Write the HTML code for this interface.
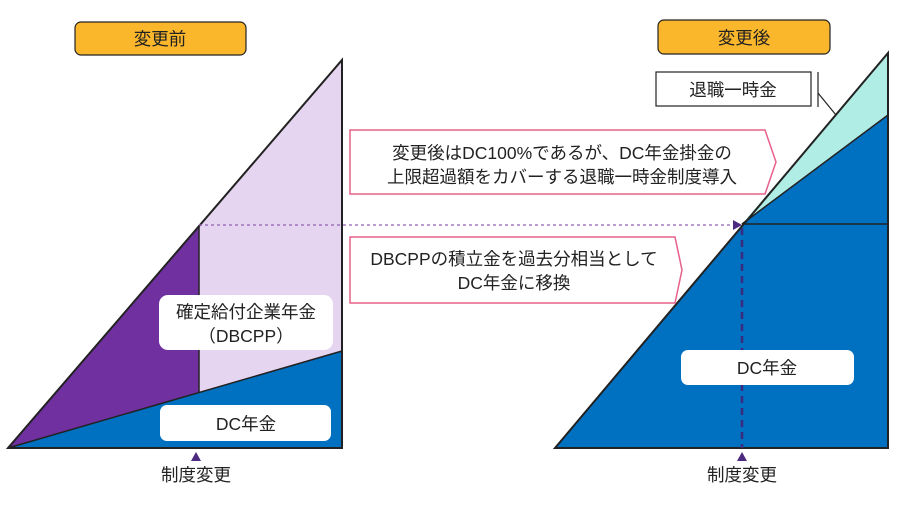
<!DOCTYPE html>
<html><head><meta charset="utf-8"><style>
body{margin:0;background:#fff;width:900px;height:500px;overflow:hidden}
svg text{font-family:"Liberation Sans","Noto Sans CJK JP",sans-serif;fill:#222}
</style></head><body>
<svg width="900" height="500" viewBox="0 0 900 500">
<polygon points="8,448 342,60 342,448" fill="#E6D5F0"/>
<polygon points="8,448 199,225 199,392" fill="#7030A0"/>
<polygon points="8,448 342,351 342,448" fill="#0070C0"/>
<line x1="199" y1="225" x2="199" y2="392" stroke="#222" stroke-width="1.5"/>
<line x1="8" y1="448" x2="342" y2="351" stroke="#222" stroke-width="1.5"/>
<polygon points="8,448 342,60 342,448" fill="none" stroke="#222" stroke-width="2"/>
<rect x="159" y="295" width="174" height="55" rx="9" fill="#fff"/>
<text x="246" y="318" font-size="17.5" text-anchor="middle">確定給付企業年金</text>
<text x="246" y="342" font-size="17.5" text-anchor="middle">（DBCPP）</text>
<rect x="160" y="405" width="171" height="36" rx="7" fill="#fff"/>
<text x="246" y="430" font-size="17.5" text-anchor="middle">DC年金</text>
<polygon points="191,461 201,461 196,452" fill="#4B2A80"/>
<text x="196" y="481" font-size="17.5" text-anchor="middle">制度変更</text>
<rect x="75" y="22" width="171" height="33" rx="6" fill="#FBB72C" stroke="#222" stroke-width="1.2"/>
<text x="160" y="45" font-size="17.5" text-anchor="middle">変更前</text>
<rect x="658" y="20" width="172" height="34" rx="6" fill="#FBB72C" stroke="#222" stroke-width="1.2"/>
<text x="744" y="44" font-size="17.5" text-anchor="middle">変更後</text>
<polygon points="555,448 888,53 888,448" fill="#0070C0"/>
<polygon points="742,224 888,53 888,115" fill="#B0EDE5"/>
<line x1="742" y1="224" x2="888" y2="115" stroke="#222" stroke-width="1.5"/>
<line x1="742" y1="224" x2="888" y2="224" stroke="#222" stroke-width="1.5"/>
<polygon points="555,448 888,53 888,448" fill="none" stroke="#222" stroke-width="2"/>
<line x1="742" y1="228" x2="742" y2="448" stroke="#3A2A80" stroke-width="2.5" stroke-dasharray="7,5"/>
<rect x="681" y="350" width="173" height="35" rx="7" fill="#fff"/>
<text x="767" y="374" font-size="17.5" text-anchor="middle">DC年金</text>
<polygon points="737,461 747,461 742,452" fill="#4B2A80"/>
<text x="742" y="481" font-size="17.5" text-anchor="middle">制度変更</text>
<rect x="656" y="72" width="155" height="34" fill="#fff" stroke="#222" stroke-width="1.2"/>
<text x="733" y="96" font-size="17.5" text-anchor="middle">退職一時金</text>
<polyline points="818,72 818,107" fill="none" stroke="#222" stroke-width="1.2"/>
<line x1="818" y1="93" x2="836" y2="115" stroke="#222" stroke-width="1.2"/>
<line x1="199" y1="225" x2="734" y2="225" stroke="#9060B0" stroke-width="1.3" stroke-dasharray="3,3"/>
<polygon points="733,220 742,225 733,230" fill="#4B2A80"/>
<polygon points="350,130 765,130 776,162 765,194 350,194" fill="#fff" stroke="#E8608A" stroke-width="1.5"/>
<text x="562" y="159" font-size="17.5" text-anchor="middle">変更後はDC100%であるが、DC年金掛金の</text>
<text x="562" y="183" font-size="17.5" text-anchor="middle">上限超過額をカバーする退職一時金制度導入</text>
<polygon points="350,237 675,237 682,270 675,303 350,303" fill="#fff" stroke="#E8608A" stroke-width="1.5"/>
<text x="514" y="265" font-size="17.5" text-anchor="middle">DBCPPの積立金を過去分相当として</text>
<text x="514" y="289" font-size="17.5" text-anchor="middle">DC年金に移換</text>
</svg>
</body></html>
